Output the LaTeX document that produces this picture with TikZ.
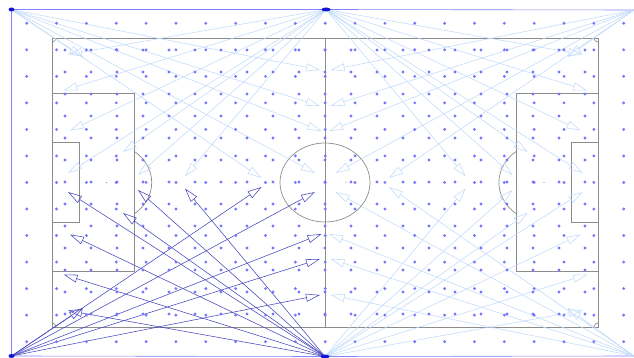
\documentclass[tikz,border=0pt]{standalone}
\usetikzlibrary{arrows.meta}
\definecolor{dotblue}{RGB}{118,118,252}
\definecolor{raydark}{RGB}{70,70,190}
\definecolor{raylight}{RGB}{192,218,250}
\definecolor{framecol}{RGB}{130,130,255}
\definecolor{linegray}{RGB}{140,140,140}
\definecolor{cammark}{RGB}{20,20,215}

\begin{document}
\begin{tikzpicture}[x=1pt,y=-1pt,>={Triangle[open,length=14pt,width=8pt]},
  ray/.style={->,line width=0.55pt},
  pitchline/.style={draw=linegray,line width=0.7pt}]
\useasboundingbox (0,0) rectangle (634,358);
% cameras on the outer frame
\coordinate (camTL) at (11.5,9.5); \coordinate (camTC) at (326,9.5); \coordinate (camTR) at (634,10);
\coordinate (camBL) at (11.5,356); \coordinate (camBC) at (325,356.5); \coordinate (camBR) at (634,356);
\draw[framecol,line width=0.6pt] (camTL) -- (camTC) -- (camTR);
\draw[framecol,line width=0.6pt] (camTL) -- (camBL) -- (camBC) -- (camBR);
% pitch
\draw[pitchline] (52,38) rectangle (598,327);
\draw[pitchline] (325,38) -- (325,327);
\draw[pitchline] (325,182.5) ellipse [x radius=45pt,y radius=39.5pt];
\draw[pitchline] (52,93.3) rectangle (134,271.7); \draw[pitchline] (516.6,93.3) rectangle (598,271.7);
\draw[pitchline] (52,142.3) rectangle (79.3,222.7); \draw[pitchline] (571.3,142.3) rectangle (598,222.7);
\draw[pitchline] (134,151.1) arc [start angle=52.7,end angle=-52.7,x radius=45pt,y radius=39.5pt];
\draw[pitchline] (516.6,151.1) arc [start angle=127.3,end angle=232.7,x radius=45pt,y radius=39.5pt];
\draw[pitchline] (56,38) arc [start angle=0,end angle=-90,radius=4pt];
\draw[pitchline] (594,38) arc [start angle=180,end angle=270,radius=4pt];
\draw[pitchline] (56,327) arc [start angle=0,end angle=90,radius=4pt];
\draw[pitchline] (594,327) arc [start angle=180,end angle=90,radius=4pt];
\fill[linegray] (106.7,182.5) circle (0.7pt); \fill[linegray] (544,182.5) circle (0.7pt);
\fill[red!50] (346,182.5) circle (0.6pt);
% targets: corner cameras and centre cameras
\foreach \n/\x/\y in {1/83/57,2/261.5/178,3/315/173,4/321.5/131,5/320/106,6/320/70} {
  \coordinate (ctl\n) at (\x,\y); \coordinate (cbl\n) at (\x,{365-\y});
  \coordinate (ctr\n) at ({650.6-\x},\y); \coordinate (cbr\n) at ({650.6-\x},{365-\y});
}
\foreach \n/\x/\y in {1/68/54.5,2/63.5/90.5,3/70/130.5,4/123/152,5/68/173,6/185/176.5,7/138/175} {
  \coordinate (mtl\n) at (\x,\y); \coordinate (mbl\n) at (\x,{365-\y});
  \coordinate (mtr\n) at ({650.6-\x},\y); \coordinate (mbr\n) at ({650.6-\x},{365-\y});
}
% rays
\foreach \n in {1,...,6} {
  \draw[ray,raylight] (camTL) -- (ctl\n); \draw[ray,raylight] (camTR) -- (ctr\n);
  \draw[ray,raylight] (camBR) -- (cbr\n);
}
\foreach \n in {1,...,7} {
  \draw[ray,raylight] (camTC) -- (mtl\n); \draw[ray,raylight] (camTC) -- (mtr\n);
  \draw[ray,raylight] (camBC) -- (mbr\n);
}
\foreach \n in {1,...,6} \draw[ray,raydark] (camBL) -- (cbl\n);
\foreach \n in {1,...,7} \draw[ray,raydark] (camBC) -- (mbl\n);
% sample points
\foreach \i in {0,...,20} \foreach \j in {0,...,12} {
  \fill[dotblue] ({26.7+29.85*\i},{23.3+26.53*\j}) circle (1.6pt);
  \fill[dotblue] ({65+26*\i},{50+22*\j}) circle (1.6pt);
}
\foreach \c/\r in {camTL/3pt,camTC/4.5pt,camBL/3pt,camBC/4.5pt}
  \fill[cammark] (\c) ellipse [x radius=\r,y radius=2pt];
\end{tikzpicture}
\end{document}
